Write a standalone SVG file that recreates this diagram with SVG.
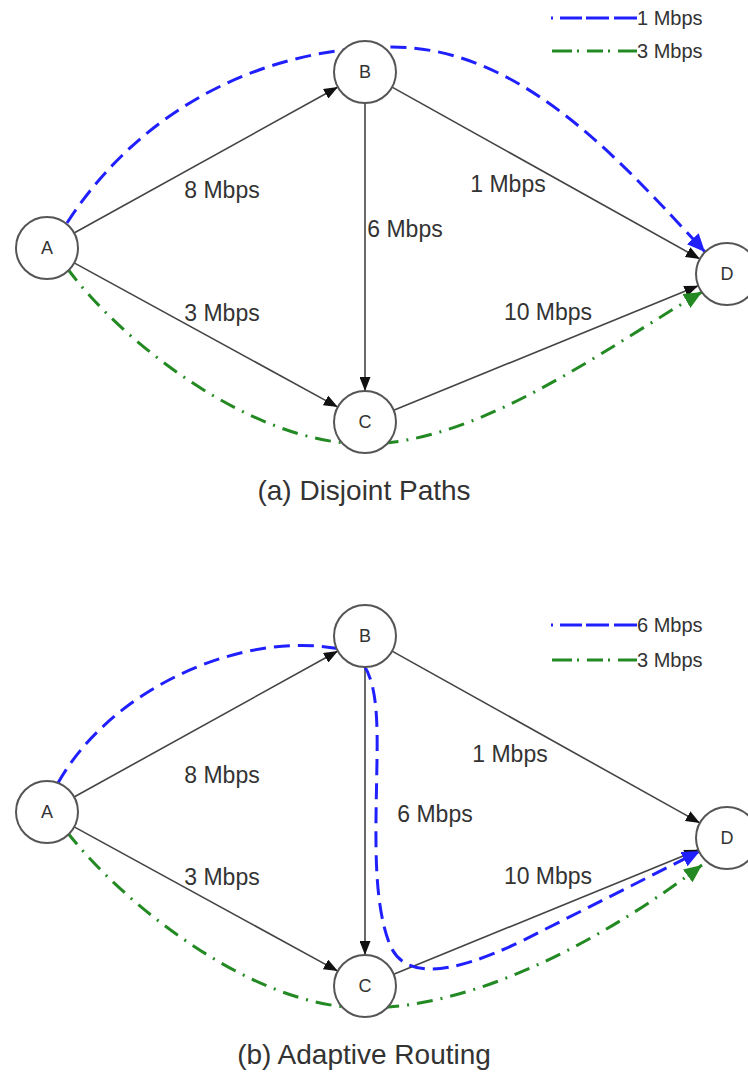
<svg xmlns="http://www.w3.org/2000/svg" width="748" height="1079" viewBox="0 0 748 1079">
<style>
.node{fill:#fff;stroke:#555;stroke-width:2}
.nl{font-family:"Liberation Sans",Arial,sans-serif;font-size:18px;fill:#333;text-anchor:middle}
.el{font-family:"Liberation Sans",Arial,sans-serif;font-size:23px;fill:#333;text-anchor:middle}
.lg{font-family:"Liberation Sans",Arial,sans-serif;font-size:20px;fill:#333}
.ti{font-family:"Liberation Sans",Arial,sans-serif;font-size:28px;fill:#333;text-anchor:middle}
.edge{stroke:#444;stroke-width:1.6;fill:none;marker-end:url(#ab)}
.blue{stroke:#2020ff;stroke-width:3;fill:none;stroke-dasharray:16 8}
.green{stroke:#238a23;stroke-width:3;fill:none;stroke-dasharray:16 8 2 8}
</style>
<defs>
<marker id="ab" viewBox="0 0 14 11" refX="14" refY="5.5" markerWidth="14" markerHeight="11" orient="auto" markerUnits="userSpaceOnUse"><path d="M0,0 L14,5.5 L0,11 z" fill="#111"/></marker>
<marker id="abl" viewBox="0 0 18 16" refX="18" refY="8" markerWidth="18" markerHeight="16" orient="auto" markerUnits="userSpaceOnUse"><path d="M0,0 L18,8 L0,16 z" fill="#2020ff"/></marker>
<marker id="agr" viewBox="0 0 18 16" refX="18" refY="8" markerWidth="18" markerHeight="16" orient="auto" markerUnits="userSpaceOnUse"><path d="M0,0 L18,8 L0,16 z" fill="#238a23"/></marker>
</defs>
<rect width="748" height="1079" fill="#fff"/>

<g id="connectors">
<!-- (a) -->
<line class="edge" x1="74.1" y1="233" x2="337.9" y2="87"/>
<line class="edge" x1="74.2" y1="262.9" x2="337.8" y2="407.1"/>
<line class="edge" x1="365" y1="103" x2="365" y2="391"/>
<line class="edge" x1="392.1" y1="87.1" x2="699.9" y2="258.9"/>
<line class="edge" x1="393.7" y1="410.3" x2="698.3" y2="285.7"/>
<path class="blue" marker-end="url(#abl)" d="M67,223 C140,110 260,48 390,47 C520,46 620,160 705,252"/>
<path class="green" marker-end="url(#agr)" d="M67,268 C120,340 250,444 365,444 C480,444 610,345 702,292"/>
<!-- (b) -->
<line class="edge" x1="74.1" y1="797" x2="337.9" y2="651"/>
<line class="edge" x1="74.2" y1="826.9" x2="337.8" y2="971.1"/>
<line class="edge" x1="365" y1="667" x2="365" y2="955"/>
<line class="edge" x1="392.1" y1="651.1" x2="699.9" y2="822.9"/>
<line class="edge" x1="393.7" y1="974.3" x2="698.3" y2="849.7"/>
<path class="blue" marker-end="url(#abl)" d="M58,783 C110,690 240,630 340,649 C375,656 378,700 377,760 C376,830 372,900 390,945 C405,980 450,975 520,942 L700,851"/>
<path class="green" marker-end="url(#agr)" d="M67,832 C120,900 250,1008 365,1008 C480,1008 610,935 702,865"/>
</g>

<g id="legend-a">
<line x1="551" y1="18" x2="637" y2="18" stroke="#2020ff" stroke-width="3" stroke-dasharray="2 7 22 4 23 5 23"/>
<text class="lg" x="637" y="25">1 Mbps</text>
<line x1="552" y1="51" x2="637" y2="51" stroke="#238a23" stroke-width="3" stroke-dasharray="20 5 2 8 16 5 2 8 19"/>
<text class="lg" x="637" y="58">3 Mbps</text>
</g>
<g id="legend-b">
<line x1="551" y1="625" x2="637" y2="625" stroke="#2020ff" stroke-width="3" stroke-dasharray="2 7 22 4 23 5 23"/>
<text class="lg" x="637" y="632">6 Mbps</text>
<line x1="552" y1="660" x2="637" y2="660" stroke="#238a23" stroke-width="3" stroke-dasharray="20 5 2 8 16 5 2 8 19"/>
<text class="lg" x="637" y="667">3 Mbps</text>
</g>

<g id="labels-a">
<text class="el" x="222" y="198">8 Mbps</text>
<text class="el" x="222" y="321">3 Mbps</text>
<text class="el" x="405" y="237">6 Mbps</text>
<text class="el" x="508" y="192">1 Mbps</text>
<text class="el" x="548" y="320">10 Mbps</text>
</g>
<g id="labels-b">
<text class="el" x="222" y="783">8 Mbps</text>
<text class="el" x="222" y="885">3 Mbps</text>
<text class="el" x="435" y="822">6 Mbps</text>
<text class="el" x="510" y="762">1 Mbps</text>
<text class="el" x="548" y="884">10 Mbps</text>
</g>

<g id="node-a-A"><circle class="node" cx="47" cy="248" r="31"/><text class="nl" x="47" y="254">A</text></g>
<g id="node-a-B"><circle class="node" cx="365" cy="72" r="31"/><text class="nl" x="365" y="78">B</text></g>
<g id="node-a-C"><circle class="node" cx="365" cy="422" r="31"/><text class="nl" x="365" y="428">C</text></g>
<g id="node-a-D"><circle class="node" cx="727" cy="274" r="31"/><text class="nl" x="727" y="280">D</text></g>

<g id="node-b-A"><circle class="node" cx="47" cy="812" r="31"/><text class="nl" x="47" y="818">A</text></g>
<g id="node-b-B"><circle class="node" cx="365" cy="636" r="31"/><text class="nl" x="365" y="642">B</text></g>
<g id="node-b-C"><circle class="node" cx="365" cy="986" r="31"/><text class="nl" x="365" y="992">C</text></g>
<g id="node-b-D"><circle class="node" cx="727" cy="838" r="31"/><text class="nl" x="727" y="844">D</text></g>

<text class="ti" x="364" y="500">(a) Disjoint Paths</text>
<text class="ti" x="364" y="1064">(b) Adaptive Routing</text>
</svg>
